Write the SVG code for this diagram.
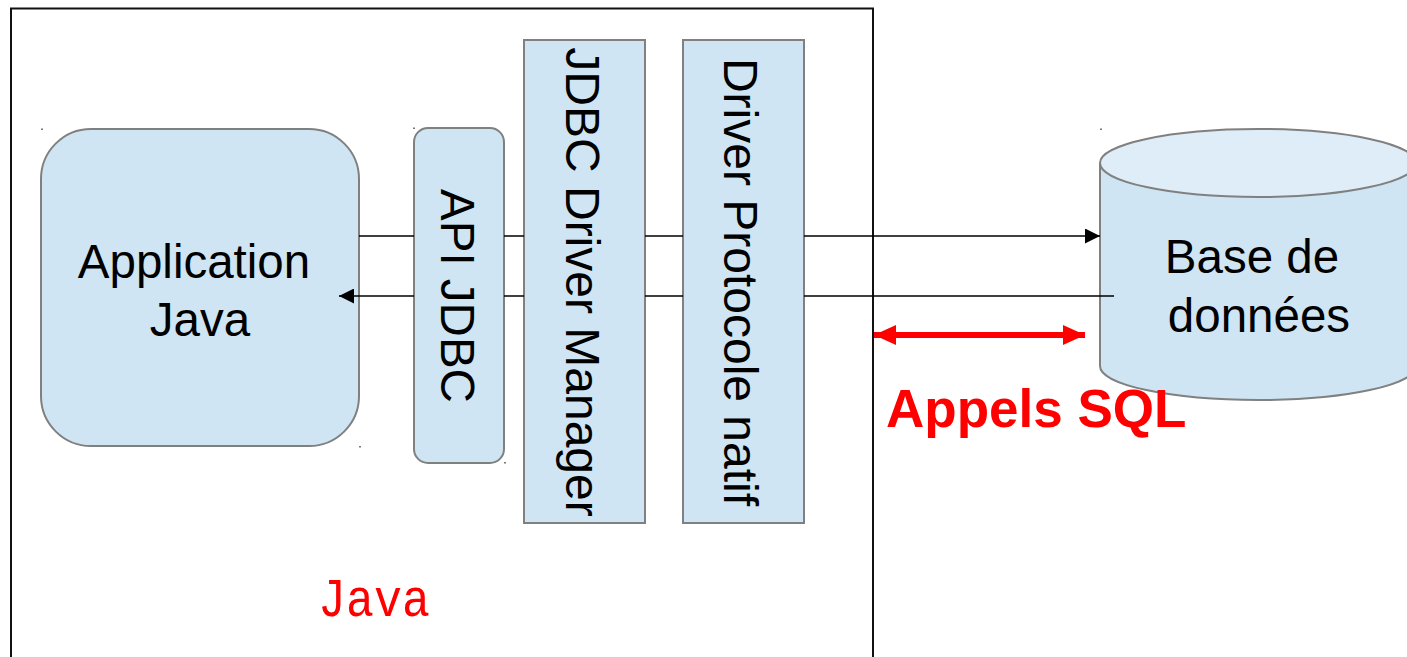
<svg xmlns="http://www.w3.org/2000/svg" width="1407" height="657" viewBox="0 0 1407 657">
<defs>
<style>
.box{fill:#cfe5f3;stroke:#808080;stroke-width:2}
.lbl{font-family:"Liberation Sans",Arial,sans-serif;font-size:47.5px;fill:#000}
.vlbl{font-family:"Liberation Sans",Arial,sans-serif;font-size:48px;fill:#000}
.dot{fill:#777}
.conn{stroke:#000;stroke-width:1.5;fill:none}
</style>
<marker id="ah" viewBox="0 0 15 15" refX="15" refY="7.5" markerWidth="15" markerHeight="15" markerUnits="userSpaceOnUse" orient="auto">
<path d="M0,0 L15,7.5 L0,15 Z" fill="#000"/>
</marker>
<marker id="rh" viewBox="0 0 22 20" refX="22" refY="10" markerWidth="22" markerHeight="20" markerUnits="userSpaceOnUse" orient="auto-start-reverse">
<path d="M0,0 L22,10 L0,20 Z" fill="#ff0000"/>
</marker>
</defs>
<rect width="1407" height="657" fill="#fff"/>
<g id="frame">
<path d="M11,660 V8.5 H873 V660" fill="none" stroke="#111" stroke-width="2"/>
<text x="318" y="616" font-family="'Liberation Mono','DejaVu Sans Mono',monospace" font-size="53" fill="#ff0000" textLength="112" lengthAdjust="spacingAndGlyphs">Java</text>
</g>
<g id="app">
<rect class="box" x="41" y="129" width="318" height="317" rx="50" ry="50"/>
<text class="lbl" text-anchor="middle"><tspan x="194" y="278">Application</tspan><tspan x="200" y="336">Java</tspan></text>
</g>
<g id="api">
<rect class="box" x="414" y="128" width="90" height="335" rx="14" ry="14"/>
<text class="lbl" transform="translate(441,296) rotate(90)" text-anchor="middle">API JDBC</text>
</g>
<g id="manager">
<rect class="box" x="524" y="40" width="121" height="483"/>
<text class="vlbl" transform="translate(566,282) rotate(90)" text-anchor="middle">JDBC Driver Manager</text>
</g>
<g id="protocole">
<rect class="box" x="683" y="40" width="121" height="483"/>
<text class="vlbl" transform="translate(724,282) rotate(90)" text-anchor="middle">Driver Protocole natif</text>
</g>
<g id="db">
<path d="M1100,163 V366 A158,34 0 0 0 1416,366 V163" fill="#cfe5f3" stroke="#808080" stroke-width="2"/>
<ellipse cx="1258" cy="163" rx="158" ry="34" fill="#deedf7" stroke="#808080" stroke-width="2"/>
<text class="lbl" text-anchor="middle"><tspan x="1252" y="273">Base de</tspan><tspan x="1259" y="332">données</tspan></text>
</g>
<g id="dots">
<rect class="dot" x="41" y="128.5" width="2" height="1.5"/>
<rect class="dot" x="413" y="127.5" width="2" height="1.5"/>
<rect class="dot" x="359" y="446" width="2" height="1.5"/>
<rect class="dot" x="504" y="462" width="2" height="1.5"/>
<rect class="dot" x="1100" y="128.5" width="2" height="1.5"/>
</g>
<g id="connectors">
<path class="conn" d="M359,236 H414 M504,236 H524 M645,236 H683"/>
<path class="conn" d="M804,236 H1100" marker-end="url(#ah)"/>
<path class="conn" d="M1114,296 H804 M683,296 H645 M524,296 H504"/>
<path class="conn" d="M414,296 H339" marker-end="url(#ah)"/>
<path d="M874,335 H1085" stroke="#ff0000" stroke-width="6" fill="none" marker-start="url(#rh)" marker-end="url(#rh)"/>
<text x="886" y="427" font-family="'Liberation Sans',Arial,sans-serif" font-size="53" font-weight="bold" fill="#ff0000">Appels SQL</text>
</g>
</svg>
